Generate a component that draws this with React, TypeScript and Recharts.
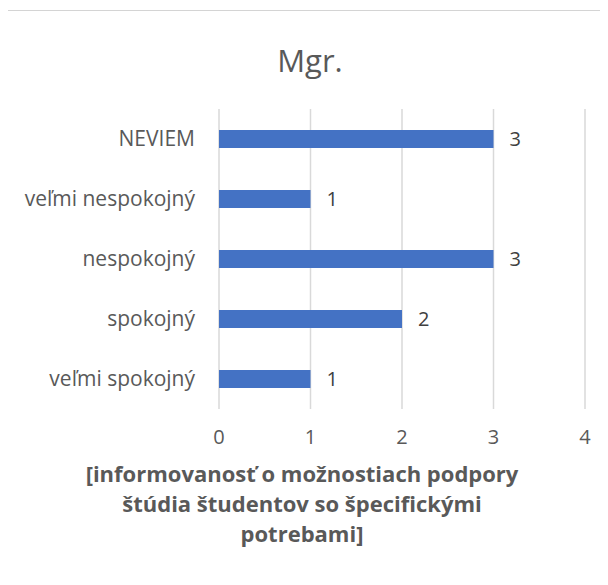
import React from "react";
import { BarChart, Bar, XAxis, YAxis, CartesianGrid, LabelList } from "recharts";

const categories = ["NEVIEM", "veľmi nespokojný", "nespokojný", "spokojný", "veľmi spokojný"];
const counts = [3, 1, 3, 2, 1];
const xTicks = [0, 1, 2, 3, 4];
const chartTitle = "Mgr.";
const axisTitleLines = [
  "[informovanosť o možnostiach podpory",
  "štúdia študentov so špecifickými",
  "potrebami]",
];

const data = categories.map((c, i) => ({ name: c, value: counts[i] }));

const FONT = "'Open Sans', 'Noto Sans', sans-serif";

export default function App() {
  return (
    <div
      style={{
        position: "relative",
        marginTop: 2,
        marginLeft: -1,
        width: 596,
        height: 580,
        border: "1px solid #d4d4d4",
        borderRight: "none",
        fontFamily: FONT,
        background: "#fff",
        overflow: "hidden",
      }}
    >
      <div
        style={{
          position: "absolute",
          left: 0,
          width: 604,
          top: 28,
          textAlign: "center",
          fontSize: 31,
          color: "#595959",
        }}
      >
        {chartTitle}
      </div>
      <BarChart
        layout="vertical"
        width={596}
        height={580}
        data={data}
        margin={{ top: 98, right: 19, bottom: 140, left: 0 }}
        barCategoryGap="65%"
      >
        <CartesianGrid horizontal={false} stroke="#d9d9d9" strokeWidth={1.5} />
        <XAxis
          type="number"
          domain={[0, 4]}
          ticks={xTicks}
          axisLine={false}
          tickLine={false}
          tickSize={6}
          tickMargin={15}
          tick={{ fill: "#595959", fontSize: 20, fontFamily: FONT }}
          height={42}
        />
        <YAxis
          type="category"
          dataKey="name"
          width={211}
          axisLine={false}
          tickLine={false}
          tickSize={6}
          tickMargin={18}
          tick={{ fill: "#595959", fontSize: 21, fontFamily: FONT }}
        />
        <Bar dataKey="value" fill="#4472C4" isAnimationActive={false}>
          <LabelList
            dataKey="value"
            position="right"
            offset={16}
            fill="#404040"
            fontSize={20}
            fontFamily={FONT}
          />
        </Bar>
      </BarChart>
      <div
        style={{
          position: "absolute",
          left: 0,
          width: 588,
          top: 447,
          textAlign: "center",
          fontSize: 22,
          fontWeight: "bold",
          lineHeight: "30px",
          color: "#595959",
        }}
      >
        {axisTitleLines.map((l, i) => (
          <div key={i}>{l}</div>
        ))}
      </div>
    </div>
  );
}
